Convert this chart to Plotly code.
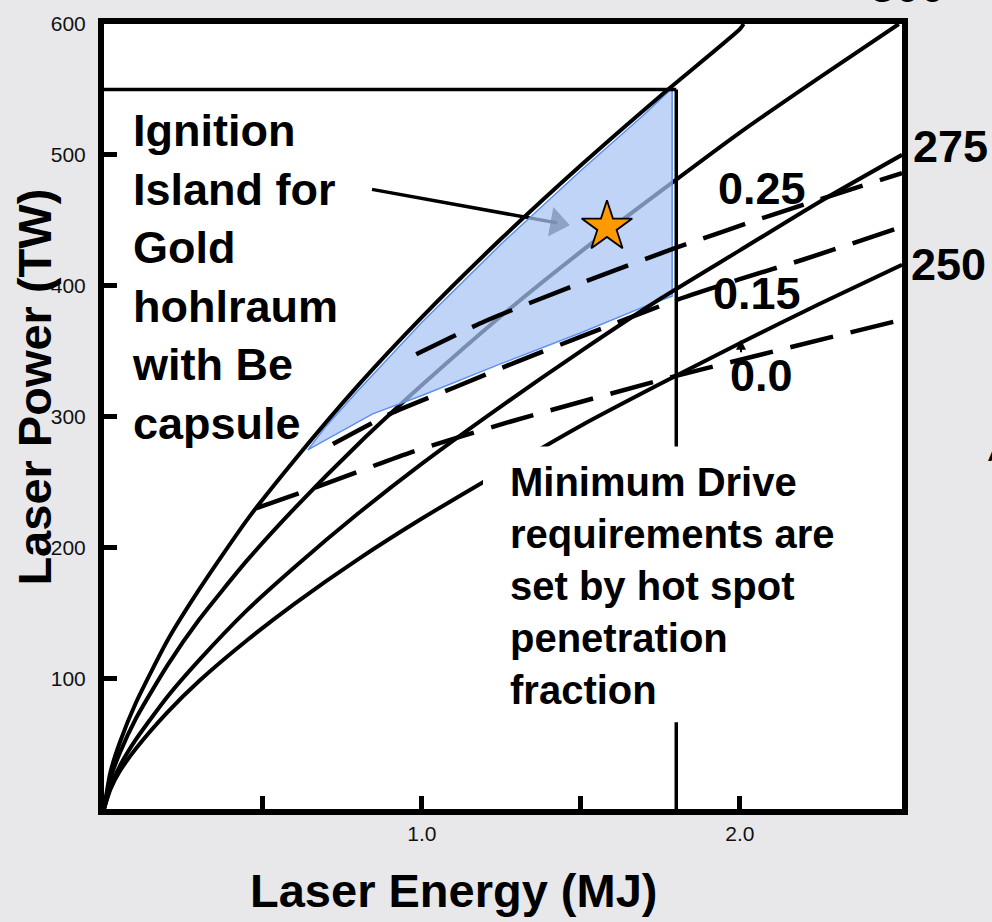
import plotly.graph_objects as go

# ---------------- data ----------------
# solid hohlraum-temperature curves (Laser Energy MJ -> Laser Power TW)
curveA_E = [0, 0.02, 0.05, 0.1, 0.2, 0.3, 0.45, 0.6, 0.8, 1.0, 1.25, 1.5, 1.75, 2.0, 2.012]
curveA_P = [0, 28, 51, 81, 129, 168, 221, 267, 324, 376, 436, 492, 545, 596, 600]

curve300_E = [0, 0.02, 0.05, 0.1, 0.2, 0.3, 0.45, 0.6, 0.8, 1.0, 1.25, 1.5, 1.75, 2.0, 2.25, 2.5]
curve300_P = [0, 23, 43, 69, 110, 145, 190, 230, 279, 324, 377, 426, 472, 517, 559, 600]

curve275_E = [0, 0.02, 0.05, 0.1, 0.2, 0.3, 0.45, 0.6, 0.8, 1.0, 1.25, 1.5, 1.75, 2.0, 2.25, 2.51]
curve275_P = [0, 17, 33, 53, 86, 114, 152, 185, 226, 264, 308, 350, 390, 427, 464, 500]

curve250_E = [0, 0.02, 0.05, 0.1, 0.2, 0.3, 0.45, 0.6, 0.8, 1.0, 1.25, 1.5, 1.75, 2.0, 2.25, 2.51]
curve250_P = [0, 15, 29, 46, 74, 98, 129, 157, 191, 222, 258, 293, 325, 356, 386, 416]

# dashed hot-spot penetration fraction lines
pen025_E = [0.982, 1.2, 1.5, 1.8, 2.1, 2.51]
pen025_P = [347.5, 373, 402, 429, 454, 486]
pen015_E = [0.72, 0.9, 1.1, 1.3, 1.5, 1.8, 2.0, 2.2, 2.51]
pen015_P = [279, 302, 322, 342, 361, 389, 405, 420, 445]
pen000_E = [0.48, 0.657, 0.97, 1.277, 1.8, 2.51]
pen000_P = [230, 245, 273, 296, 331, 374]

# ignition island outline
island_E = [0.641, 0.7, 0.8, 1.0, 1.25, 1.5, 1.7, 1.787, 1.787, 1.73, 1.5, 1.245, 1.0, 0.845, 0.641]
island_P = [274.5, 293, 320, 372, 432, 488, 531, 551, 392, 387, 364, 340, 316, 302, 274.5]

# facility limits
E_limit = 1.8
P_limit = 550

# design point (star) and arrow
star_E = [1.582]
star_P = [445]
arrow_E = [0.843, 1.425]
arrow_P = [473.6, 448]

# axis ticks
x_tickvals = [0.5, 1.0, 1.5, 2.0]
x_ticktext = ["", "1.0", "", "2.0"]
y_tickvals = [100, 200, 300, 400, 500, 600]
y_ticktext = ["100", "200", "300", "400", "500", "600"]

# ---------------- layout geometry helpers ----------------
L, T, PW, PH = 104, 21, 798, 788
W, H = 992, 922


def px(x):
    return (x - L) / PW


def py(y):
    return (T + PH - y) / PH


FONT = "Liberation Sans, Arial, Helvetica, sans-serif"
BLACK = "#000000"

fig = go.Figure()

# curve under the island (appears grey through the fill)
fig.add_trace(go.Scatter(x=curve300_E, y=curve300_P, mode="lines",
                         line=dict(color=BLACK, width=4, shape="spline", smoothing=0.6),
                         hoverinfo="skip"))
# arrow (drawn under the island fill)
fig.add_trace(go.Scatter(x=arrow_E, y=arrow_P, mode="lines+markers",
                         line=dict(color=BLACK, width=3.5),
                         marker=dict(symbol="triangle-up", size=[0, 26], color=BLACK,
                                     angleref="previous", angle=0, line=dict(width=0)),
                         hoverinfo="skip"))
# island fill
fig.add_trace(go.Scatter(x=island_E, y=island_P, mode="lines", fill="toself",
                         fillcolor="rgba(168,195,245,0.72)",
                         line=dict(color="#5E90F0", width=1.5),
                         hoverinfo="skip"))
# other solid curves
for ex, pw in [(curveA_E, curveA_P), (curve275_E, curve275_P), (curve250_E, curve250_P)]:
    fig.add_trace(go.Scatter(x=ex, y=pw, mode="lines",
                             line=dict(color=BLACK, width=4, shape="spline", smoothing=0.6),
                             hoverinfo="skip"))
# dashed lines
for ex, pw in [(pen025_E, pen025_P), (pen015_E, pen015_P), (pen000_E, pen000_P)]:
    fig.add_trace(go.Scatter(x=ex, y=pw, mode="lines",
                             line=dict(color=BLACK, width=4.5, dash="44px,18px",
                                       shape="spline", smoothing=0.6),
                             hoverinfo="skip"))
# facility limit lines
fig.add_trace(go.Scatter(x=[0, E_limit], y=[P_limit, P_limit], mode="lines",
                         line=dict(color=BLACK, width=3.5), hoverinfo="skip"))
fig.add_trace(go.Scatter(x=[E_limit, E_limit], y=[0, P_limit], mode="lines",
                         line=dict(color=BLACK, width=3.5), hoverinfo="skip"))
# star
fig.add_trace(go.Scatter(x=star_E, y=star_P, mode="markers",
                         marker=dict(symbol="star", size=38, color="#FF9900",
                                     line=dict(color=BLACK, width=1.8)),
                         hoverinfo="skip"))

axis_common = dict(showgrid=False, zeroline=False, showline=True, linewidth=6,
                   linecolor=BLACK, mirror=True, ticks="inside", ticklen=13,
                   tickwidth=4.5, tickcolor=BLACK,
                   tickfont=dict(family=FONT, size=21, color="#111111"))

fig.update_layout(
    width=W, height=H,
    margin=dict(l=L, r=W - L - PW, t=T, b=H - T - PH),
    paper_bgcolor="#E8E8EA", plot_bgcolor="#FFFFFF",
    showlegend=False,
    xaxis=dict(range=[0, 2.51], tickvals=x_tickvals, ticktext=x_ticktext,
               ticklabelstandoff=1, **axis_common),
    yaxis=dict(range=[0, 600], tickvals=y_tickvals, ticktext=y_ticktext,
               ticklabelstandoff=8, **axis_common),
)

# white box behind the explanatory text
fig.add_shape(type="rect", xref="paper", yref="paper",
              x0=px(483), x1=px(897), y0=py(722), y1=py(445),
              fillcolor="white", line=dict(width=0), layer="above")

def ann(text, x, y, size, xanchor="center", yanchor="middle", bold=True, angle=0, align="center"):
    fig.add_annotation(text=text, xref="paper", yref="paper", x=x, y=y,
                       xanchor=xanchor, yanchor=yanchor, showarrow=False,
                       textangle=angle, align=align,
                       font=dict(family=FONT, size=size, color=BLACK,
                                 weight="bold" if bold else "normal"))

ann("Laser Energy (MJ)", px(453), py(891), 47)
ann("Laser Power (TW)", px(35), py(386), 47, angle=-90)
ann("Ignition<br>Island for<br>Gold<br>hohlraum<br>with Be<br>capsule",
    px(130), py(100), 45, xanchor="left", yanchor="top", align="left")
ann("Minimum Drive<br>requirements are<br>set by hot spot<br>penetration<br>fraction",
    px(508), py(457), 40, xanchor="left", yanchor="top", align="left")
ann("275", px(950), py(144), 45)
ann("250", px(948), py(262), 45)
ann("300", px(907), py(-17), 45)
ann("0.25", px(762), py(186), 45)
ann("0.15", px(757), py(292), 45)
ann("0.0", px(761), py(374), 45)
ann("A", px(986), py(448), 34, xanchor="left", bold=False)

# small arrow near the 0.0 label
fig.add_annotation(x=px(741), y=py(338), xref="paper", yref="paper", text="",
                   showarrow=True, ax=0, ay=14, arrowhead=2, arrowsize=1,
                   arrowwidth=2, arrowcolor=BLACK)

fig.write_html("out.html", config={"displayModeBar": False},
               post_script="document.body.style.margin='0';document.body.style.overflow='hidden';")
